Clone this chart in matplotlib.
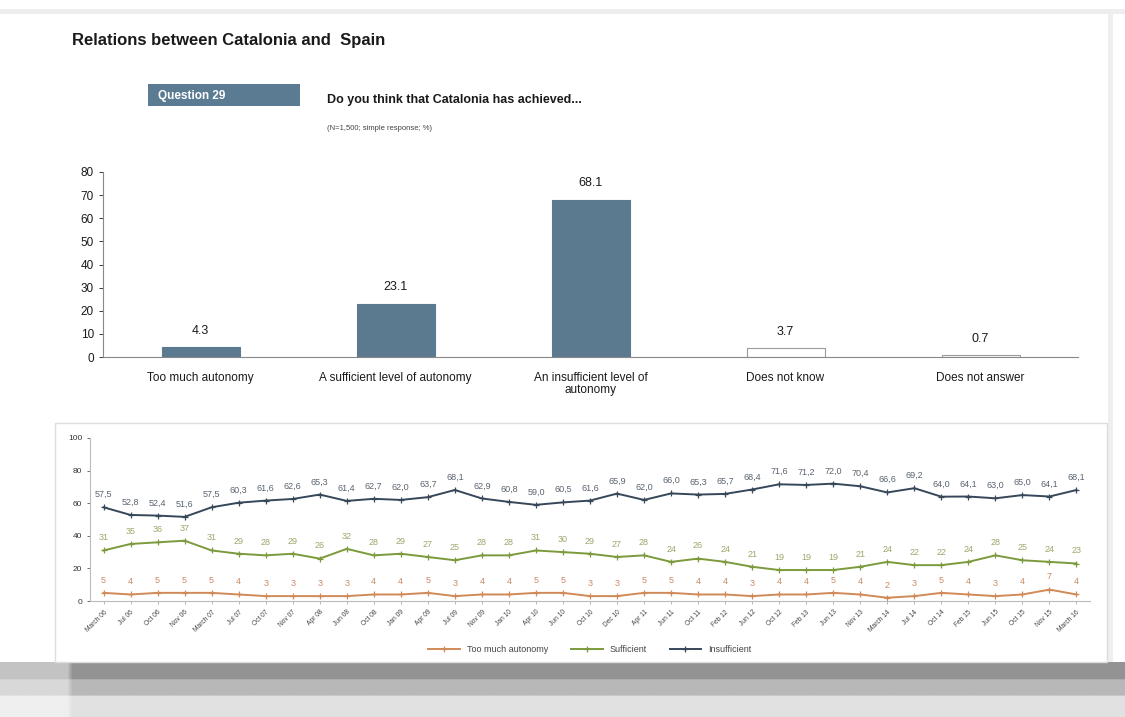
import numpy as np
import matplotlib.pyplot as plt
from matplotlib.patches import Rectangle

plt.rcParams['font.family'] = ['Liberation Sans', 'DejaVu Sans']

# Question 29 - current wave
categories = ['Too much autonomy', 'A sufficient level of autonomy',
              'An insufficient level of\nautonomy', 'Does not know', 'Does not answer']
values = [4.3, 23.1, 68.1, 3.7, 0.7]

# evolution
waves = ['March 06', 'Jul 06', 'Oct 06', 'Nov 06', 'March 07', 'Jul 07', 'Oct 07', 'Nov 07',
         'Apr 08', 'Jun 08', 'Oct 08', 'Jan 09', 'Apr 09', 'Jul 09', 'Nov 09', 'Jan 10',
         'Apr 10', 'Jun 10', 'Oct 10', 'Dec 10', 'Apr 11', 'Jun 11', 'Oct 11', 'Feb 12',
         'Jun 12', 'Oct 12', 'Feb 13', 'Jun 13', 'Nov 13', 'March 14', 'Jul 14', 'Oct 14',
         'Feb 15', 'Jun 15', 'Oct 15', 'Nov 15', 'March 16']
too_much = [5, 4, 5, 5, 5, 4, 3, 3, 3, 3, 4, 4, 5, 3, 4, 4, 5, 5, 3, 3,
            5, 5, 4, 4, 3, 4, 4, 5, 4, 2, 3, 5, 4, 3, 4, 7, 4]
sufficient = [31, 35, 36, 37, 31, 29, 28, 29, 26, 32, 28, 29, 27, 25, 28, 28, 31, 30, 29, 27,
              28, 24, 26, 24, 21, 19, 19, 19, 21, 24, 22, 22, 24, 28, 25, 24, 23]
insufficient = [57.5, 52.8, 52.4, 51.6, 57.5, 60.3, 61.6, 62.6, 65.3, 61.4, 62.7, 62.0, 63.7,
                68.1, 62.9, 60.8, 59.0, 60.5, 61.6, 65.9, 62.0, 66.0, 65.3, 65.7, 68.4, 71.6,
                71.2, 72.0, 70.4, 66.6, 69.2, 64.0, 64.1, 63.0, 65.0, 64.1, 68.1]

W, H = 1125, 717
fig = plt.figure(figsize=(W / 100, H / 100), dpi=100)


def fx(px):
    return px / W


def fy(py):
    return 1 - py / H


# page decorations
fig.add_artist(Rectangle((0, fy(14)), 1, 5 / H, transform=fig.transFigure,
                         facecolor='#eeeeee', edgecolor='none'))
fig.add_artist(Rectangle((fx(1108), fy(662)), 5 / W, (662 - 14) / H, transform=fig.transFigure,
                         facecolor='#efefef', edgecolor='none'))
fig.add_artist(Rectangle((fx(55), fy(662)), fx(1107 - 55), (662 - 423) / H,
                         transform=fig.transFigure, facecolor='none', edgecolor='#dddddd', lw=1))
# grey shadow band at the bottom of the page
grad = np.ones((55, 225))
for i in range(55):
    if i < 18:
        grad[i] = 0.58
    elif i < 34:
        grad[i] = 0.72
    else:
        grad[i] = 0.88
grad[:, :14] = 0.45 + 0.55 * grad[:, :14]
gax = fig.add_axes([0, 0, 1, 55 / H])
gax.imshow(grad, cmap='gray', vmin=0, vmax=1, aspect='auto', extent=(0, 1, 0, 1),
           interpolation='bilinear')
gax.axis('off')

fig.text(fx(72), fy(41), 'Relations between Catalonia and  Spain', fontsize=12,
         fontweight='bold', color='#1a1a1a', va='center')
fig.add_artist(Rectangle((fx(148), fy(106)), fx(152), 22 / H, transform=fig.transFigure,
                         facecolor='#5b7b93', edgecolor='none'))
fig.text(fx(158), fy(96), 'Question 29', fontsize=8.5, fontweight='bold', color='white',
         va='center')
fig.text(fx(327), fy(100), 'Do you think that Catalonia has achieved...', fontsize=9,
         fontweight='bold', color='#1a1a1a', va='center')
fig.text(fx(327), fy(128), '(N=1,500; simple response; %)', fontsize=5.5, color='#444444',
         va='center')

# bar chart
ax = fig.add_axes([fx(103), fy(357), fx(975), (357 - 172) / H])
x = np.arange(len(categories))
colors = ['#5b7a90', '#5b7a90', '#5b7a90', 'white', 'white']
edges = ['#5b7a90', '#5b7a90', '#5b7a90', '#9a9a9a', '#9a9a9a']
ax.bar(x, values, width=0.4, color=colors, edgecolor=edges, linewidth=0.8)
for xi, v in zip(x, values):
    ax.text(xi, v + 4.5, '{:.1f}'.format(v), ha='center', va='bottom', fontsize=9,
            color='#1a1a1a')
ax.set_xlim(-0.5, len(categories) - 0.5)
ax.set_ylim(0, 80)
ax.set_yticks(range(0, 81, 10))
ax.set_xticks(x)
ax.set_xticklabels(categories, fontsize=8.5, color='#1a1a1a', linespacing=0.95)
ax.tick_params(axis='x', length=0, pad=11)
ax.tick_params(axis='y', labelsize=8.5, colors='#1a1a1a', length=3, width=0.6)
for s in ['top', 'right']:
    ax.spines[s].set_visible(False)
for s in ['left', 'bottom']:
    ax.spines[s].set_color('#888888')
    ax.spines[s].set_linewidth(0.8)

# evolution chart
ax2 = fig.add_axes([fx(90), fy(601), fx(1000), (601 - 438) / H])
t = np.arange(len(waves))
series = [
    (too_much, 'Too much autonomy', '#d08a58', '#c98a64', '{:d}'),
    (sufficient, 'Sufficient', '#7c9a3c', '#9aa86a', '{:d}'),
    (insufficient, 'Insufficient', '#37475a', '#5a6470', '{:.1f}'),
]
for vals, lab, col, tcol, fmt in series:
    ax2.plot(t, vals, color=col, lw=1.4, marker='+', ms=4, mew=0.9, label=lab)
    for ti, v in zip(t, vals):
        ax2.text(ti, v + 5, fmt.format(v).replace('.', ','), ha='center', va='bottom',
                 fontsize=6.5, color=tcol)
ax2.set_xlim(-0.5, len(waves) - 0.5)
ax2.set_ylim(0, 100)
ax2.set_yticks(range(0, 101, 20))
ax2.set_xticks(t)
ax2.set_xticklabels(waves, rotation=45, ha='right', rotation_mode='anchor', fontsize=4.8,
                    color='#444444')
ax2.tick_params(axis='y', labelsize=6, colors='#333333', length=2, width=0.5)
ax2.tick_params(axis='x', length=2, width=0.5, colors='#999999', labelcolor='#444444')
for s in ['top', 'right']:
    ax2.spines[s].set_visible(False)
for s in ['left', 'bottom']:
    ax2.spines[s].set_color('#bbbbbb')
    ax2.spines[s].set_linewidth(0.8)
ax2.legend(loc='upper center', bbox_to_anchor=(0.5, -0.22), ncol=3, frameon=False,
           fontsize=6.5, handlelength=3.5, columnspacing=2.5, labelcolor='#444444')

fig.savefig('out.png', dpi=100)
